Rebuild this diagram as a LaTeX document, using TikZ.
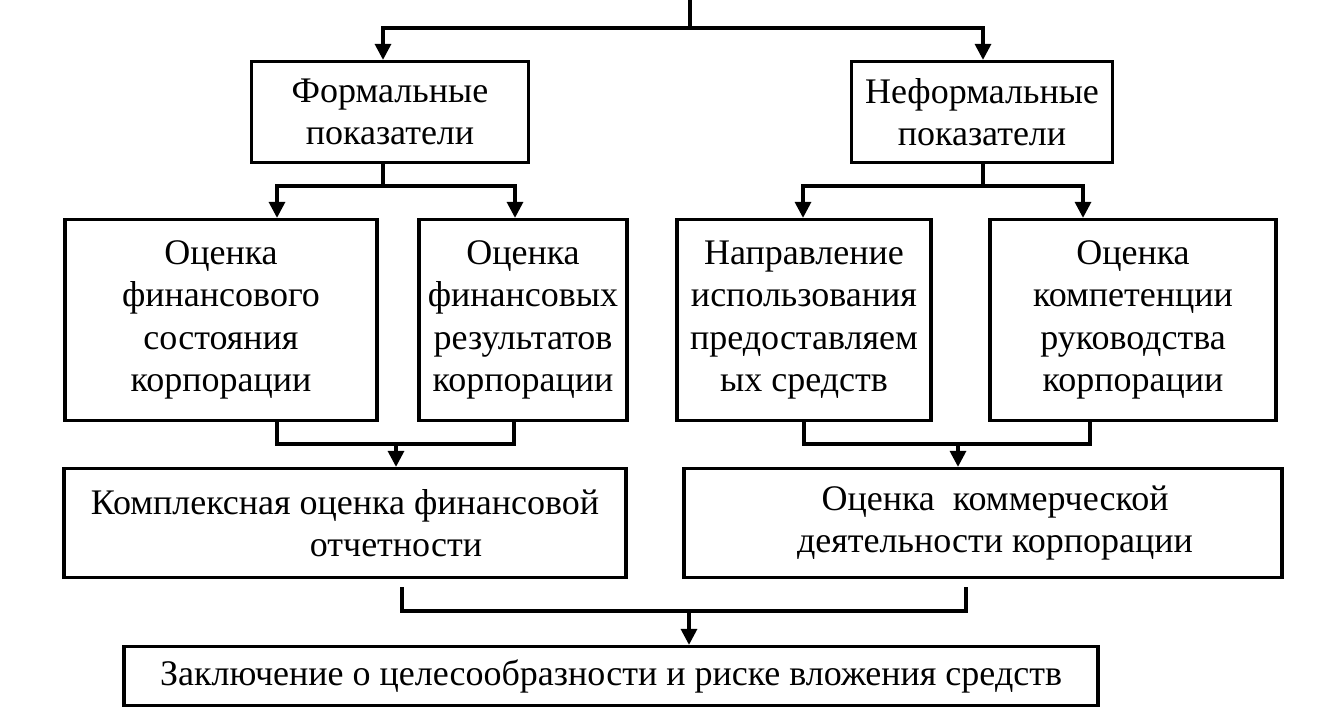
\documentclass[tikz,border=0pt]{standalone}
\usepackage{fontspec}
\setmainfont{Liberation Serif}
\usetikzlibrary{arrows.meta}

\begin{document}
\begin{tikzpicture}[x=1pt,y=-1pt,
    box/.style={draw,line width=3.3pt,align=center,inner sep=0pt,
      font=\fontsize{36}{42.5}\selectfont},
    arr/.style={-{Triangle[length=16pt,width=16pt]}},
    every path/.style={line width=3.3pt}]
  \useasboundingbox[fill=white] (0,0) rectangle (1334,718);

  \node[box,minimum width=277pt,minimum height=101pt] (formal) at (390,112) {Формальные\\показатели};
  \node[box,minimum width=261pt,minimum height=101pt] (informal) at (982,112) {Неформальные\\показатели};

  \node[box,minimum width=312pt,minimum height=201pt] (finstate) at (221,320) {Оценка\\финансового\\состояния\\корпорации};
  \node[box,minimum width=208pt,minimum height=201pt] (finres) at (523,320) {Оценка\\финансовых\\результатов\\корпорации};
  \node[box,minimum width=254pt,minimum height=201pt] (funds) at (804,320) {Направление\\использования\\предоставляем\\ых средств};
  \node[box,minimum width=286pt,minimum height=201pt] (mgmt) at (1133,320) {Оценка\\компетенции\\руководства\\корпорации};

  \node[box,minimum width=562pt,minimum height=109pt] (complex) at (345,523) {Комплексная оценка финансовой\\\hspace*{102pt}отчетности};
  \node[box,minimum width=598pt,minimum height=109pt] (commerce) at (983,523) {\hspace*{24pt}Оценка~ коммерческой\\\hspace*{24pt}деятельности корпорации};

  \node[box,minimum width=974pt,minimum height=59pt] (final) at (611,676) {Заключение о целесообразности и риске вложения средств};

  % top fork
  \coordinate (top) at (690,0);
  \coordinate (split) at (690,28);
  \coordinate (aL) at (383,28);
  \coordinate (aR) at (983,28);
  \draw (top) -- (split);
  \draw[arr] (split) -- (aL) -- (formal.north -| aL);
  \draw[arr] (split) -- (aR) -- (informal.north -| aR);

  % second level
  \coordinate (fL) at (383,186);
  \coordinate (f1) at (277,186);
  \coordinate (f2) at (515,186);
  \draw (formal.south -| fL) -- (fL);
  \draw[arr] (fL) -- (f1) -- (finstate.north -| f1);
  \draw[arr] (fL) -- (f2) -- (finres.north -| f2);

  \coordinate (gR) at (983,186);
  \coordinate (g1) at (803,186);
  \coordinate (g2) at (1083,186);
  \draw (informal.south -| gR) -- (gR);
  \draw[arr] (gR) -- (g1) -- (funds.north -| g1);
  \draw[arr] (gR) -- (g2) -- (mgmt.north -| g2);

  % merging
  \coordinate (m1) at (277,444);
  \coordinate (m2) at (514,444);
  \coordinate (mA) at (396,444);
  \draw (finstate.south -| m1) -- (m1) -- (m2) -- (finres.south -| m2);
  \draw[arr] (mA) -- (complex.north -| mA);

  \coordinate (n1) at (804,444);
  \coordinate (n2) at (1090,444);
  \coordinate (nA) at (958,444);
  \draw (funds.south -| n1) -- (n1) -- (n2) -- (mgmt.south -| n2);
  \draw[arr] (nA) -- (commerce.north -| nA);

  % conclusion
  \coordinate (b1s) at (402,587);
  \coordinate (b2s) at (966,587);
  \coordinate (b1) at (402,611);
  \coordinate (b2) at (966,611);
  \coordinate (bA) at (689,611);
  \draw (b1s) -- (b1) -- (b2) -- (b2s);
  \draw[arr] (bA) -- (final.north -| bA);
\end{tikzpicture}
\end{document}
